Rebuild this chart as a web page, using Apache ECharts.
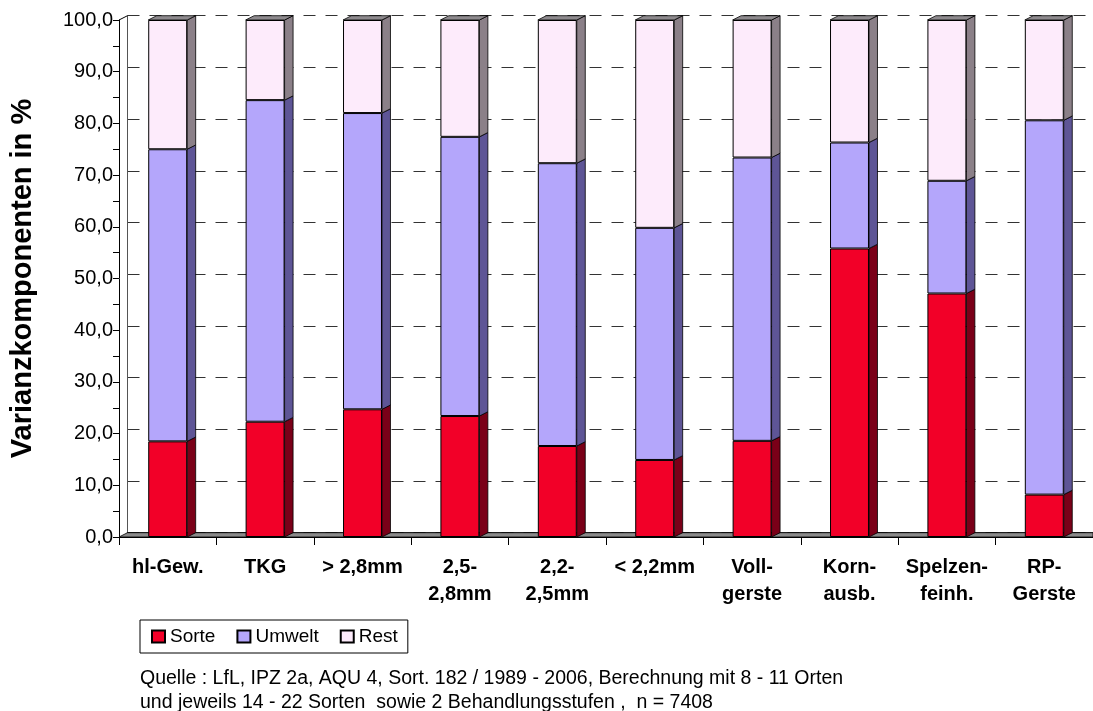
<!DOCTYPE html>
<html>
<head>
<meta charset="utf-8">
<script src="https://cdn.jsdelivr.net/npm/echarts@6/dist/echarts.min.js"></script>
<style>html,body{margin:0;padding:0;background:#fff}#c{width:1093px;height:711px}</style>
</head>
<body>
<div id="c"></div>
<script>
const categories = ['hl-Gew.', 'TKG', '> 2,8mm', '2,5-\n2,8mm', '2,2-\n2,5mm', '< 2,2mm', 'Voll-\ngerste', 'Korn-\nausb.', 'Spelzen-\nfeinh.', 'RP-\nGerste'];
const sorte  = [18.5, 22.3, 24.7, 23.4, 17.6, 14.9, 18.6, 55.8, 47.1, 8.2];
const umwelt = [56.5, 62.2, 57.3, 54.0, 54.7, 44.9, 54.8, 20.5, 21.8, 72.4];
const rest   = [25.0, 15.5, 18.0, 22.6, 27.7, 40.2, 26.6, 23.7, 31.1, 19.4];
const seriesNames = ['Sorte', 'Umwelt', 'Rest'];
const footer = ['Quelle : LfL, IPZ 2a, AQU 4, Sort. 182 / 1989 - 2006, Berechnung mit 8 - 11 Orten',
                'und jeweils 14 - 22 Sorten  sowie 2 Behandlungsstufen ,  n = 7408'];

const FONT = "'Liberation Sans', Arial, sans-serif";
const frontColors = ['#f20028', '#b4a6fb', '#fdebfb'];
const sideColors  = ['#7a0018', '#5e5596', '#8b8088'];
const DX = 8.5, DY = 4.3;
const values = [sorte, umwelt, rest];

function render3D(params, api) {
  const i = api.value(0);
  const w = api.size([1, 0])[0] * 0.4;
  let base = 0;
  const children = [];
  for (let s = 0; s < 3; s++) {
    const top = base + values[s][i];
    const p0 = api.coord([i, base]);
    const p1 = api.coord([i, top]);
    const rx = p0[0] + w / 2;
    children.push({
      type: 'polygon',
      shape: { points: [[rx, p1[1]], [rx + DX, p1[1] - DY], [rx + DX, p0[1] - DY], [rx, p0[1]]] },
      style: { fill: sideColors[s], stroke: '#000', lineWidth: 0.8 }
    });
    if (s === 2) {
      const lx = p0[0] - w / 2;
      children.push({
        type: 'polygon',
        shape: { points: [[lx, p1[1]], [lx + DX, p1[1] - DY], [rx + DX, p1[1] - DY], [rx, p1[1]]] },
        style: { fill: '#8e8a8e', stroke: '#000', lineWidth: 0.8 }
      });
    }
    base = top;
  }
  return { type: 'group', children };
}

const chart = echarts.init(document.getElementById('c'));
const option = {
  animation: false,
  textStyle: { fontFamily: FONT },
  grid: [
    { left: 119, right: 0, top: 20, bottom: 174 },
    { left: 127.5, right: 0, top: 15.7, bottom: 178.3 }
  ],
  xAxis: [
    {
      type: 'category', data: categories, gridIndex: 0,
      axisLine: { lineStyle: { color: '#000', width: 1 } },
      axisTick: { show: true, interval: 0, length: 8, lineStyle: { color: '#000' } },
      axisLabel: { interval: 0, color: '#000', fontWeight: 'bold', fontSize: 20, margin: 17, lineHeight: 27, fontFamily: FONT }
    },
    {
      type: 'value', gridIndex: 1, position: 'top', min: 0, max: 1,
      axisLine: { show: true, lineStyle: { color: '#000', width: 1.5 } },
      axisTick: { show: false }, axisLabel: { show: false }, splitLine: { show: false }
    }
  ],
  yAxis: [
    {
      type: 'value', gridIndex: 0, min: 0, max: 100, interval: 5,
      name: 'Varianzkomponenten in %', nameLocation: 'middle', nameGap: 82,
      nameTextStyle: { color: '#000', fontWeight: 'bold', fontSize: 29, fontFamily: FONT },
      axisLine: { show: true, lineStyle: { color: '#000', width: 1 } },
      axisTick: { show: true, length: 6, lineStyle: { color: '#000' } },
      axisLabel: {
        color: '#000', fontSize: 20, margin: 6, fontFamily: FONT,
        formatter: v => (v % 10 === 0 ? v.toFixed(1).replace('.', ',') : '')
      },
      splitLine: { show: false }
    },
    {
      type: 'value', gridIndex: 1, min: 0, max: 100, interval: 10,
      axisLine: { show: true, lineStyle: { color: '#555', width: 1 } },
      axisTick: { show: false }, axisLabel: { show: false },
      splitLine: { show: true, lineStyle: { color: '#333', type: [12, 10], width: 1 } }
    }
  ],
  legend: {
    left: 140, top: 620, orient: 'horizontal',
    data: seriesNames.map(n => ({ name: n, icon: 'rect' })),
    borderColor: '#000', borderWidth: 1, borderRadius: 0,
    padding: [7, 10, 7, 11], itemGap: 21,
    itemWidth: 13, itemHeight: 12,
    textStyle: { color: '#000', fontSize: 19, fontFamily: FONT, padding: [0, 0, 0, 0] }
  },
  title: {
    left: 140, top: 667, padding: 0,
    text: footer.join('\n'),
    textStyle: { fontSize: 19.5, fontWeight: 'normal', color: '#000', lineHeight: 24, fontFamily: FONT }
  },
  series: [
    ...seriesNames.map((n, s) => ({
      name: n, type: 'bar', stack: 'total', barWidth: '40%',
      xAxisIndex: 0, yAxisIndex: 0,
      data: values[s],
      itemStyle: { color: frontColors[s], borderColor: '#000', borderWidth: 1 },
      z: 3
    })),
    {
      type: 'custom', name: '3d', xAxisIndex: 0, yAxisIndex: 0,
      data: categories.map((c, i) => [i]),
      renderItem: render3D, z: 3, silent: true
    }
  ]
};
chart.setOption(option);

// floor and wall corner computed from the axes
const f0 = chart.convertToPixel({ xAxisIndex: 0, yAxisIndex: 0 }, [0, 0]);
const halfBand = chart.getModel().getComponent('xAxis', 0).axis.getBandWidth() / 2;
const xl = f0[0] - halfBand, yb = f0[1];
const topL = chart.convertToPixel({ xAxisIndex: 0, yAxisIndex: 0 }, [0, 100]);
chart.setOption({
  graphic: [
    {
      type: 'polygon', z: 1, silent: true,
      shape: { points: [[xl, yb], [xl + DX, yb - DY], [1093, yb - DY], [1093, yb]] },
      style: { fill: '#8a8a8a', stroke: '#000', lineWidth: 0.8 }
    },
    {
      type: 'line', z: 1, silent: true,
      shape: { x1: xl, y1: topL[1], x2: xl + DX, y2: topL[1] - DY },
      style: { stroke: '#000', lineWidth: 1 }
    }
  ]
});
</script>
</body>
</html>
